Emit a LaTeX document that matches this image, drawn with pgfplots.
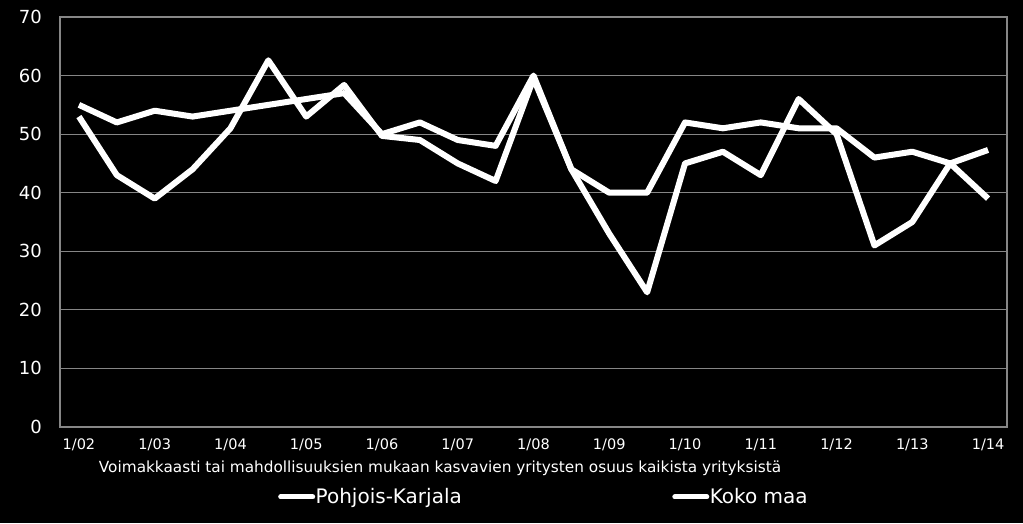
\documentclass[border=0pt]{standalone}
\usepackage{pgfplots}
\pgfplotsset{compat=1.18}
\usepackage{fontspec}
\setmainfont{DejaVu Sans}
\definecolor{gridgray}{RGB}{134,134,134}

\begin{document}
\begin{tikzpicture}
\useasboundingbox (0,0) rectangle (1023pt,523pt);
\fill[black] (0,0) rectangle (1023pt,523pt);
\begin{axis}[
    at={(60pt,96pt)}, anchor=south west,
    scale only axis,
    width=947pt, height=410pt,
    xmin=-0.5, xmax=24.5,
    ymin=0, ymax=70,
    ytick={0,10,...,70},
    xtick={0,2,...,24},
    xticklabels={1/02,1/03,1/04,1/05,1/06,1/07,1/08,1/09,1/10,1/11,1/12,1/13,1/14},
    major tick length=0pt,
    axis line style={draw=gridgray, line width=1.2pt},
    ymajorgrids,
    grid style={draw=gridgray, line width=1.2pt},
    /pgf/number format/assume math mode=true,
    yticklabel style={font=\fontsize{18}{20}\selectfont, text=white, anchor=east, inner sep=0pt, xshift=-18pt},
    xticklabel style={font=\fontsize{14.5}{16}\selectfont, text=white, anchor=north, inner sep=0pt, yshift=-12pt},
    legend columns=2,
    legend style={at={(axis description cs:0.2302,-0.1707)}, anchor=west,
        draw=none, fill=none, text=white, inner sep=0pt,
        font=\fontsize{20}{22}\selectfont,
        nodes={inner sep=0.5pt}},
    /tikz/every even column/.append style={column sep=210pt},
    legend image code/.code={\draw[white, line width=5pt, line cap=round] (1pt,0pt) -- (33pt,0pt);},
    series/.style={white, line width=6pt, line join=round, mark=none},
]
\addplot[series] coordinates {
(0,53) (1,43) (2,39) (3,44) (4,51) (5,62.6) (6,53) (7,58.4) (8,49.7) (9,49)
(10,45) (11,42) (12,59.5) (13,44) (14,33) (15,23) (16,45) (17,47) (18,43) (19,56)
(20,50) (21,31) (22,35) (23,45) (24,39)};
\addlegendentry{Pohjois-Karjala}
\addplot[series] coordinates {
(0,55) (1,52) (2,54) (3,53) (4,54) (5,55) (6,56) (7,57) (8,50) (9,52)
(10,49) (11,48) (12,60) (13,44) (14,40) (15,40) (16,52) (17,51) (18,52) (19,51)
(20,51) (21,46) (22,47) (23,45) (24,47.3)};
\addlegendentry{Koko maa}
\end{axis}
\node[text=white, font=\fontsize{15.3}{17}\selectfont, inner sep=0pt] at (440pt,55pt)
  {Voimakkaasti tai mahdollisuuksien mukaan kasvavien yritysten osuus kaikista yrityksistä};
\end{tikzpicture}
\end{document}
